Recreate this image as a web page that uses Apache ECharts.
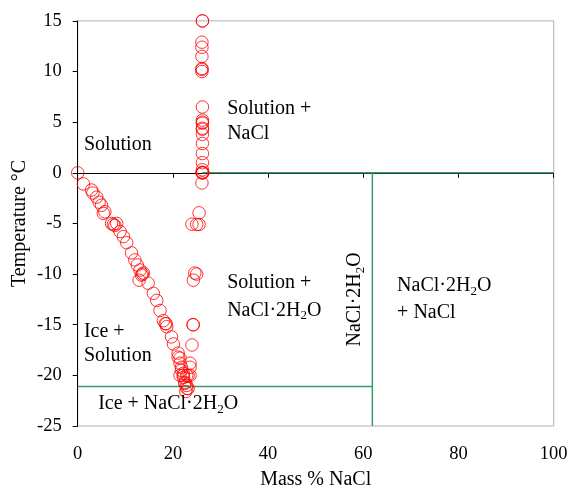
<!DOCTYPE html>
<html><head><meta charset="utf-8">
<script src="https://cdn.jsdelivr.net/npm/echarts@6/dist/echarts.min.js"></script>
<style>html,body{margin:0;padding:0;background:#fff}#c{width:571px;height:490px}</style>
</head><body><div id="c"></div>
<script>
// Ice liquidus (Ice + Solution boundary)
var iceBranch = [[0,0],[1.2,-1.1],[2.9,-1.7],[3.2,-2.0],[4.0,-2.4],[4.5,-2.9],[5.0,-3.2],[5.7,-3.85],[5.4,-4.0],
  [7.1,-5.0],[7.8,-5.2],[8.2,-5.0],[7.5,-5.1],[8.9,-5.8],[9.6,-6.3],[10.3,-6.9],[11.3,-7.9],[12.0,-8.6],[12.5,-9.1],
  [13.1,-9.6],[13.4,-10.1],[12.9,-10.6],[13.8,-9.9],[13.6,-10.0],[14.8,-10.9],[15.9,-11.9],[16.6,-12.6],[17.3,-13.6],
  [18.0,-14.6],[18.6,-14.9],[18.7,-15.2],[18.4,-14.9],[19.7,-16.2],[20.1,-16.9],[21.1,-17.8],[21.1,-18.2],[21.5,-18.3],
  [21.5,-18.8],[21.8,-19.2],[21.8,-19.5],[22.2,-19.8],[22.2,-20.2],[22.5,-20.7],[22.5,-20.8],[22.9,-21.0],[22.9,-21.3],
  [23.2,-21.3],[22.7,-21.6]];
// NaCl solubility (above 0 °C)
var naclBranch = [[26.2,15],[26.2,15],[26.1,12.9],[26.1,12.4],[26.1,11.5],[26.1,10.3],[26.1,10.2],[26.1,10.0],
  [26.2,6.5],[26.2,5.2],[26.2,5.0],[26.2,4.9],[26.2,4.4],[26.2,4.3],[26.2,3.8],[26.2,2.9],[26.2,1.9],[26.2,1.0],
  [26.2,0.3],[26.2,0],[26.1,0],[26.3,0],[26.2,0.05],[26.1,-1.0]];
// NaCl·2H2O solubility (below 0 °C)
var dihydBranch = [[25.5,-3.95],[24.0,-5.07],[25.0,-5.1],[25.5,-5.1],[24.6,-9.9],[25.0,-10.0],[24.3,-10.6],
  [24.2,-15.0],[24.3,-15.0],[24.0,-17.0],[23.6,-18.8],[23.6,-19.2],[23.2,-20.0],[23.6,-20.0],[22.9,-20.0],[22.2,-20.0],[21.5,-20.0]];
// Phase boundaries
var lineNaClX = [26.2,100], lineNaClY = [0,0];
var lineEutX = [0,61.9], lineEutY = [-21.1,-21.1];
var lineDihydX = [61.9,61.9], lineDihydY = [0,-25];
// Annotation texts (label, x, y in data units)
var annotations = [
  ['{n|Solution}', 1.3, 2.74],
  ['{n|Solution +}', 31.4, 6.3], ['{n|NaCl}', 31.4, 3.9],
  ['{n|Solution +}', 31.4, -10.9], ['{n|NaCl\u00B72H}{s|2}{n|O}', 31.4, -13.6],
  ['{n|Ice +}', 1.3, -15.65], ['{n|Solution}', 1.3, -18.1],
  ['{n|Ice + NaCl\u00B72H}{s|2}{n|O}', 4.3, -22.8],
  ['{n|NaCl\u00B72H}{s|2}{n|O}', 67.1, -11.2], ['{n|+ NaCl}', 67.1, -13.8]
];
var verticalAnnotation = ['{n|NaCl\u00B72H}{s|2}{n|O}', 58.3, -12.5];

var chart = echarts.init(document.getElementById('c'), null, {renderer:'canvas'});
var font = '"Liberation Serif","Times New Roman",serif';
var red = '#ff0000', green = '#3a9a6a';
function pairs(xs, ys){ return xs.map(function(x,i){return [x, ys[i]];}); }
function scatter(d){ return {type:'scatter', data:d, symbol:'circle', symbolSize:12.5, silent:true,
  itemStyle:{color:'rgba(0,0,0,0)', borderColor:red, borderWidth:1}, z:5}; }
function line(d){ return {type:'line', data:d, symbol:'none', silent:true, lineStyle:{color:green, width:1.5}, z:3}; }

chart.setOption({
  animation:false,
  grid:{left:77.7, right:17.3, top:20.9, bottom:64, show:true, borderColor:'#b0b0b0', borderWidth:1,
    containLabel:false, outerBoundsMode:'none'},
  xAxis:{type:'value', min:0, max:100, interval:20, name:'Mass % NaCl', nameLocation:'middle', nameGap:44,
    nameMoveOverlap:false,
    nameTextStyle:{fontFamily:font, fontSize:20, color:'#000'},
    axisLine:{show:true, lineStyle:{color:'#000', width:1}}, axisTick:{show:true, inside:false, length:5, lineStyle:{color:'#000'}},
    axisLabel:{fontFamily:font, fontSize:18.5, color:'#000', margin:19}, splitLine:{show:false}},
  yAxis:{type:'value', min:-25, max:15, interval:5, name:'Temperature \u00B0C', nameLocation:'middle', nameGap:48,
    nameMoveOverlap:false,
    nameTextStyle:{fontFamily:font, fontSize:20, color:'#000'},
    axisLine:{show:true, lineStyle:{color:'#000', width:1}}, axisTick:{show:true, inside:false, length:5, lineStyle:{color:'#000'}},
    axisLabel:{fontFamily:font, fontSize:18.5, color:'#000', margin:16}, splitLine:{show:false}},
  series:[
    line(pairs(lineNaClX, lineNaClY)), line(pairs(lineEutX, lineEutY)), line(pairs(lineDihydX, lineDihydY)),
    scatter(iceBranch), scatter(naclBranch), scatter(dihydBranch)
  ]
});

var rich = {n:{fontFamily:font, fontSize:20, color:'#000', lineHeight:28},
            s:{fontFamily:font, fontSize:13, color:'#000', lineHeight:28, padding:[11,0,0,0]}};
function txt(text, x, y, rot){
  var p = chart.convertToPixel({gridIndex:0}, [x, y]);
  return {type:'text', x:p[0], y:p[1], rotation:rot||0, z:10,
    style:{text:text, rich:rich, fill:'#000', font:'20px '+font, verticalAlign:'middle'}};
}
var g = annotations.map(function(a){ return txt(a[0], a[1], a[2]); });
var v = txt(verticalAnnotation[0], verticalAnnotation[1], verticalAnnotation[2], Math.PI/2);
v.style.align = 'center';
g.push(v);
chart.setOption({graphic:g});
</script></body></html>
